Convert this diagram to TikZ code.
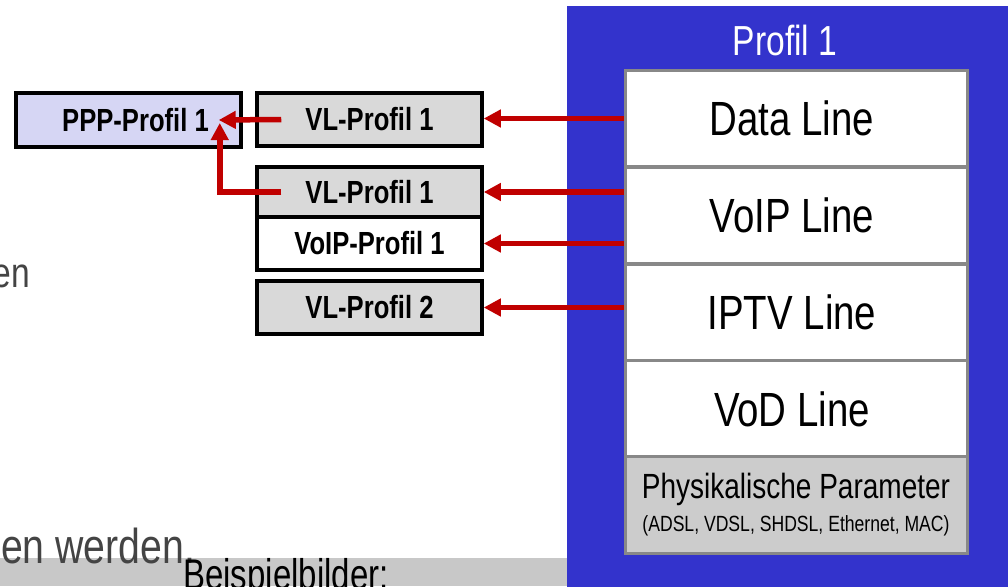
\documentclass[tikz,border=0pt]{standalone}
\usepackage{fontspec}
\setmainfont{Liberation Sans}
\newfontfamily\narrowfont[FakeStretch=0.8]{Liberation Sans}
\usetikzlibrary{arrows.meta,calc}

\definecolor{profileblue}{HTML}{3333CC}
\definecolor{linkred}{HTML}{C00000}
\definecolor{ppplilac}{HTML}{D6D6F4}
\definecolor{vlgray}{HTML}{D9D9D9}
\definecolor{physgray}{HTML}{CCCCCC}
\definecolor{framegray}{HTML}{888888}
\definecolor{bandgray}{HTML}{C8C8C8}
\definecolor{slidetext}{HTML}{444444}

% text of a profile line sits a little low and left of the box centre
\newcommand\linetext[1]{\raisebox{-5pt}{#1}\hspace*{8pt}}

\tikzset{
  smallbox/.style={draw=black, line width=3.5pt, minimum width=225pt,
    inner sep=0pt, font=\narrowfont\bfseries\fontsize{32}{34}\selectfont},
  linebox/.style={draw=framegray, fill=white, line width=3pt,
    minimum width=342pt, minimum height=96.5pt, inner sep=0pt,
    font=\narrowfont\fontsize{48}{54}\selectfont},
  link/.style={draw=linkred, line width=5.5pt,
    -{Triangle[length=17pt,width=17pt]}},
}

\begin{document}
\begin{tikzpicture}[x=1pt,y=-1pt]
\useasboundingbox (0,0) rectangle (1008,586);
\clip (0,0) rectangle (1008,586);

% slide background: footer band and running text
\fill[bandgray] (0,558) rectangle (567,586);
\node[anchor=base east, inner sep=0pt, text=slidetext,
  font=\narrowfont\fontsize{42}{46}\selectfont] (txten) at (30,287) {en};
\node[anchor=base west, inner sep=0pt, text=slidetext,
  font=\narrowfont\fontsize{49}{54}\selectfont] (txtwerden) at (1,563) {en werden.};
\node[anchor=base west, inner sep=0pt,
  font=\fontsize{33}{36}\selectfont] (beispiel) at (183,589)
  {\scalebox{1}[1.3]{Beispielbilder:}};

% profile container
\fill[profileblue] (567,6) rectangle (1012,590);
\node[text=white, font=\narrowfont\fontsize{42}{46}\selectfont] (proftitle) at (785,40) {Profil 1};

% lines of the profile
\node[linebox] (datal) at (796,118.5) {\linetext{Data Line}};
\node[linebox] (voipl) at (796,215.5) {\linetext{VoIP Line}};
\node[linebox] (iptvl) at (796,312.5) {\linetext{IPTV Line}};
\node[linebox] (vodl)  at (796,409) {\linetext{VoD Line}};
\node[linebox, fill=physgray, align=center,
  font=\narrowfont\fontsize{35}{38}\selectfont] (phys) at (796,505)
  {Physikalische Parameter\\[-5pt]{\fontsize{22}{26}\selectfont (ADSL, VDSL, SHDSL, Ethernet, MAC)}};

% sub-profiles
\node[smallbox, fill=ppplilac, minimum width=225pt, minimum height=54pt] (ppp) at (128.5,120)
  {\hspace*{14pt}PPP-Profil 1};
\node[smallbox, fill=vlgray, minimum height=53pt] (vl1) at (369.5,119.5) {VL-Profil 1};
\node[smallbox, fill=vlgray, minimum height=50pt] (vl1b) at (369.5,192) {VL-Profil 1};
\node[smallbox, fill=white, minimum height=53pt] (voipp) at (369.5,243.5) {VoIP-Profil 1};
\node[smallbox, fill=vlgray, minimum height=53pt] (vl2) at (369.5,307.5) {VL-Profil 2};

% references from the profile lines
\draw[link] (datal.west) -- (datal.west -| vl1.east);
\draw[link] (voipl.west |- vl1b) -- (vl1b.east);
\draw[link] (voipl.west |- voipp) -- (voipp.east);
\draw[link] (iptvl.west |- vl2) -- (vl2.east);

% both VL profiles point to the PPP profile
\coordinate (ppptip) at ($(ppp.east)+(-24,0)$);
\draw[link] ($(vl1.west)+(26,0)$) -- (ppptip);
\draw[link] ($(vl1b.west)+(26,0)$) -| ($(ppptip)+(1,3)$);
\end{tikzpicture}
\end{document}
